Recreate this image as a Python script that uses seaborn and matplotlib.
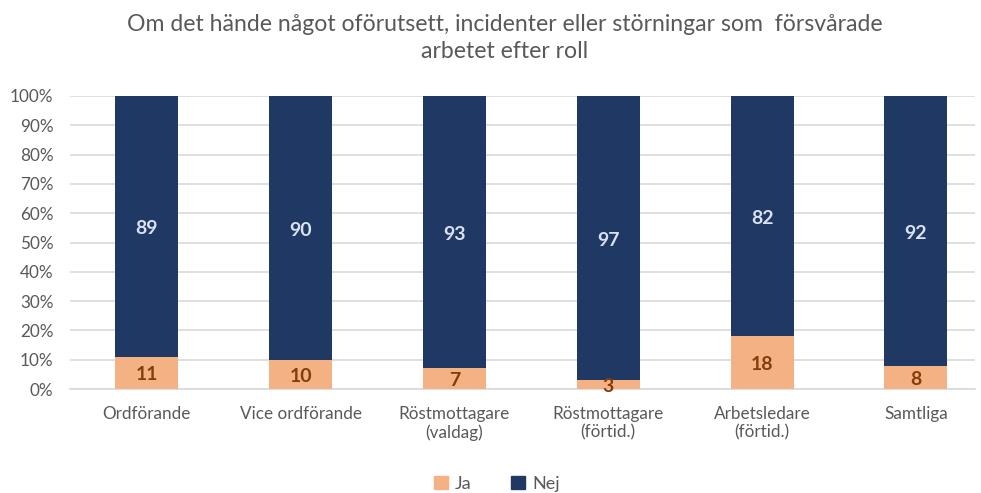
import matplotlib
matplotlib.use("Agg")
import matplotlib.pyplot as plt
import matplotlib.patches as mpatches
import seaborn as sns
import pandas as pd

categories = ["Ordförande", "Vice ordförande", "Röstmottagare\n(valdag)",
              "Röstmottagare\n(förtid.)", "Arbetsledare\n(förtid.)", "Samtliga"]
ja = [11, 10, 7, 3, 18, 8]
nej = [89, 90, 93, 97, 82, 92]
title = "Om det hände något oförutsett, incidenter eller störningar som  försvårade\narbetet efter roll"

col_ja = "#F4B183"
col_nej = "#203864"
txt_gray = "#595959"

sns.set_theme(style="white")
plt.rcParams["font.family"] = ["Lato", "DejaVu Sans"]

df = pd.DataFrame({"kategori": categories, "Ja": ja, "Nej": nej})
df["total"] = df["Ja"] + df["Nej"]

fig = plt.figure(figsize=(9.81, 4.93), dpi=100)
ax = fig.add_axes([70 / 981, 1 - 389 / 493, (975 - 70) / 981, (389 - 96) / 493])

w = 63 / 153.8
sns.barplot(data=df, x="kategori", y="total", color=col_nej, width=w,
            saturation=1, ax=ax, zorder=2, linewidth=0)
sns.barplot(data=df, x="kategori", y="Ja", color=col_ja, width=w,
            saturation=1, ax=ax, zorder=3, linewidth=0)

for i, (a, b) in enumerate(zip(ja, nej)):
    ax.text(i, a / 2 - 0.6, f"{a}", ha="center", va="center", color="#843C0C",
            fontsize=14, fontweight="bold", zorder=5)
    ax.text(i, a + b / 2 - 0.8, f"{b}", ha="center", va="center", color="#D9E1F2",
            fontsize=14, fontweight="bold", zorder=5)

ax.set_xlim(-0.5, 5 + (975 - 915.8) / 153.8)
ax.set_ylim(0, 100)
ax.set_yticks(range(0, 101, 10))
ax.set_yticklabels([f"{v}%" for v in range(0, 101, 10)])
ax.yaxis.grid(True, color="#D9D9D9", linewidth=1.2, zorder=0)
ax.set_axisbelow(True)
for s in ["top", "right", "left"]:
    ax.spines[s].set_visible(False)
ax.spines["bottom"].set_color("#D9D9D9")
ax.spines["bottom"].set_linewidth(1.2)
ax.tick_params(axis="both", length=0, labelsize=12.3, colors=txt_gray)
ax.tick_params(axis="x", pad=12)
ax.tick_params(axis="y", pad=12)
ax.set_xlabel("")
ax.set_ylabel("")
for t in ax.get_yticklabels():
    t.set_clip_on(False)

fig.text(505 / 981, 1 - 38 / 493, title, ha="center", va="center",
         fontsize=16.6, color=txt_gray, linespacing=1.3)

handles = [mpatches.Patch(color=col_ja, label="Ja"),
           mpatches.Patch(color=col_nej, label="Nej")]
leg = fig.legend(handles=handles, loc="center", bbox_to_anchor=(497 / 981, 1 - 484 / 493),
                 ncol=2, frameon=False, fontsize=13, handlelength=0.75, handleheight=0.75,
                 columnspacing=2.2, handletextpad=0.4)
for t in leg.get_texts():
    t.set_color(txt_gray)

fig.savefig("out.png", dpi=100)
